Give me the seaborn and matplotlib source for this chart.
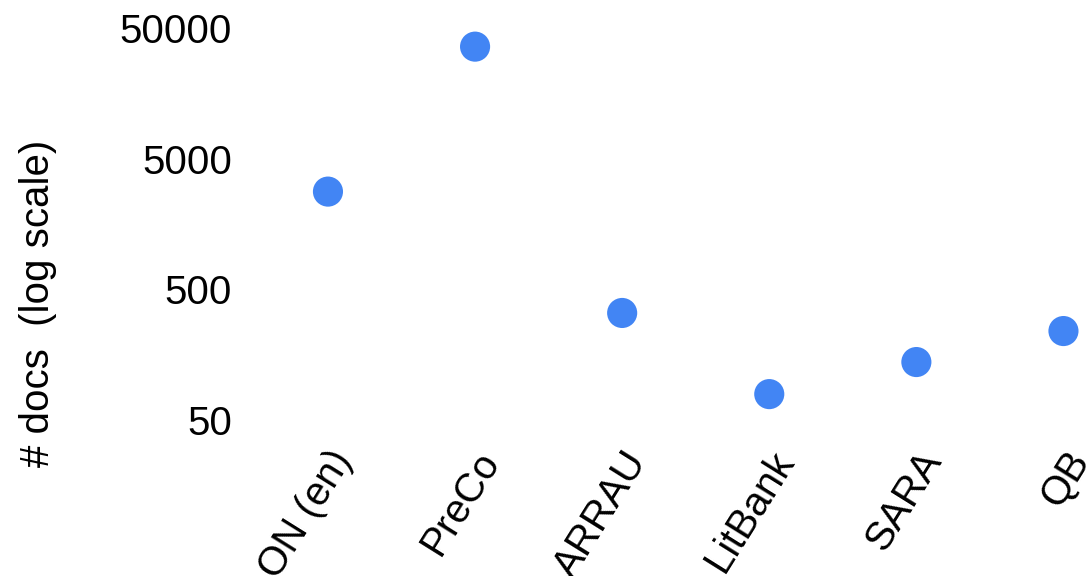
import matplotlib
matplotlib.use("Agg")
import matplotlib.pyplot as plt
import seaborn as sns
import pandas as pd

datasets = ["ON (en)", "PreCo", "ARRAU", "LitBank", "SARA", "QB"]
num_docs = [2800, 36000, 330, 79, 139, 240]
y_ticks = [50, 500, 5000, 50000]
y_tick_labels = ["50", "500", "5000", "50000"]

sns.set_theme(style="white")
plt.rcParams["font.family"] = ["Liberation Sans", "DejaVu Sans"]

df = pd.DataFrame({"dataset": datasets, "docs": num_docs})
df["pos"] = range(len(df))

fig = plt.figure(figsize=(10.87, 5.76), dpi=100)
ax = fig.add_axes([250 / 1087, 1 - 440 / 576, 837 / 1087, 430 / 576])

sns.scatterplot(data=df, x="pos", y="docs", ax=ax, color="#4285F4",
                s=470, edgecolor="none", linewidth=0, clip_on=False, legend=False)

ax.set_yscale("log")
ax.set_ylim(35.2, 68650)
ax.set_xlim(-0.53, 5.16)
ax.set_yticks(y_ticks)
ax.set_yticklabels(y_tick_labels)
ax.minorticks_off()
ax.set_xticks(df["pos"])
ax.set_xticklabels(datasets, rotation=58, ha="right", rotation_mode="anchor")
ax.tick_params(axis="y", labelsize=29, length=0, pad=13, colors="black")
ax.tick_params(axis="x", labelsize=29, length=0, pad=3, colors="black")
ax.set_xlabel("")
ax.set_ylabel("# docs  (log scale)", fontsize=29, color="black")
ax.yaxis.set_label_coords(-0.230, 0.318)
for sp in ax.spines.values():
    sp.set_visible(False)
ax.grid(False)

fig.savefig("out.png", dpi=100)
